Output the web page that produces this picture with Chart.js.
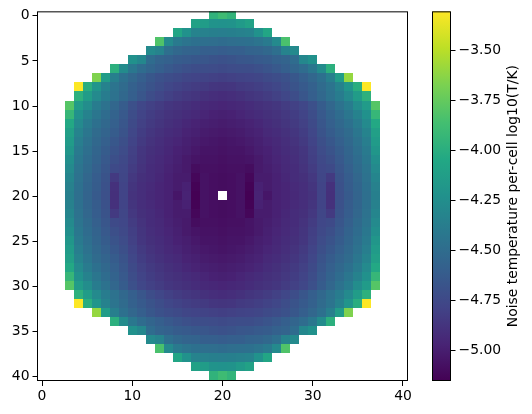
<!DOCTYPE html>
<html>
<head>
<meta charset="utf-8">
<title>Noise temperature map</title>
<script src="https://cdn.jsdelivr.net/npm/chart.js@4"></script>
<style>
    html, body { margin: 0; padding: 0; background: #fff; }
    #stage { position: relative; width: 532px; height: 414px; overflow: hidden; }
    canvas { position: absolute; left: 0; top: 0; }
</style>
</head>
<body>
<div id="stage">
    <canvas id="map-chart" width="532" height="414"></canvas>
    <canvas id="colorbar-chart" width="532" height="414"></canvas>
</div>
<script>
const xTicks = [0, 10, 20, 30, 40];
const yTicks = [0, 5, 10, 15, 20, 25, 30, 35, 40];
const colorbarTicks = [-3.5, -3.75, -4, -4.25, -4.5, -4.75, -5];
const colorbarLabel = 'Noise temperature per-cell log10(T/K)';
const colorMin = -5.151;
const colorMax = -3.306;
const gridMin = -0.5;
const gridMax = 40.5;

// first occupied column of each row, top to bottom
const firstColumn = [19, 17, 15, 13, 12, 10, 8, 6, 4, 4, 3, 3, 3, 3, 3, 3, 3, 3, 3, 3, 3,
    3, 3, 3, 3, 3, 3, 3, 3, 3, 3, 4, 4, 6, 8, 10, 12, 13, 15, 17, 19];

// log10(T/K) per cell
const noiseRows = [
    [-3.96, -3.89, -3.95],
    [-4.10, -4.14, -4.21, -4.22, -4.21, -4.16, -4.10],
    [-4.07, -4.22, -4.33, -4.35, -4.36, -4.37, -4.36, -4.35, -4.33, -4.22, -4.07],
    [-3.82, -4.28, -4.40, -4.44, -4.47, -4.48, -4.49, -4.50, -4.49, -4.48, -4.47, -4.44, -4.40, -4.28, -3.84],
    [-4.28, -4.33, -4.48, -4.53, -4.56, -4.57, -4.60, -4.60, -4.61, -4.60, -4.60, -4.57, -4.56, -4.53, -4.48, -4.33, -4.28],
    [-4.23, -4.30, -4.50, -4.56, -4.58, -4.62, -4.63, -4.65, -4.66, -4.68, -4.69, -4.68, -4.66, -4.65, -4.63, -4.62, -4.58, -4.56, -4.50, -4.30, -4.23],
    [-3.99, -4.27, -4.42, -4.50, -4.55, -4.60, -4.64, -4.67, -4.70, -4.72, -4.72, -4.73, -4.74, -4.73, -4.72, -4.72, -4.70, -4.67, -4.64, -4.60, -4.55, -4.50, -4.42, -4.27, -3.99],
    [-3.66, -4.14, -4.36, -4.47, -4.54, -4.60, -4.65, -4.69, -4.72, -4.74, -4.77, -4.78, -4.79, -4.80, -4.81, -4.80, -4.79, -4.78, -4.77, -4.74, -4.72, -4.69, -4.65, -4.60, -4.54, -4.47, -4.36, -4.14, -3.60],
    [-3.31, -4.00, -4.20, -4.34, -4.44, -4.51, -4.58, -4.63, -4.68, -4.72, -4.76, -4.79, -4.81, -4.83, -4.84, -4.86, -4.87, -4.86, -4.84, -4.83, -4.81, -4.79, -4.76, -4.72, -4.68, -4.63, -4.58, -4.51, -4.44, -4.34, -4.20, -4.00, -3.31],
    [-3.98, -4.14, -4.28, -4.38, -4.46, -4.53, -4.60, -4.66, -4.72, -4.76, -4.80, -4.83, -4.85, -4.87, -4.89, -4.91, -4.92, -4.91, -4.89, -4.87, -4.85, -4.83, -4.80, -4.76, -4.72, -4.66, -4.60, -4.53, -4.46, -4.38, -4.28, -4.14, -3.98],
    [-3.80, -4.15, -4.26, -4.38, -4.46, -4.54, -4.62, -4.70, -4.76, -4.80, -4.83, -4.86, -4.88, -4.90, -4.92, -4.94, -4.95, -4.96, -4.95, -4.94, -4.92, -4.90, -4.88, -4.86, -4.83, -4.80, -4.76, -4.70, -4.62, -4.54, -4.46, -4.38, -4.26, -4.15, -3.80],
    [-3.93, -4.23, -4.34, -4.43, -4.50, -4.57, -4.64, -4.72, -4.78, -4.82, -4.85, -4.88, -4.90, -4.92, -4.94, -4.96, -4.98, -4.99, -4.98, -4.96, -4.94, -4.92, -4.90, -4.88, -4.85, -4.82, -4.78, -4.72, -4.64, -4.57, -4.50, -4.43, -4.34, -4.23, -3.93],
    [-4.04, -4.28, -4.39, -4.47, -4.53, -4.59, -4.66, -4.74, -4.80, -4.84, -4.87, -4.90, -4.92, -4.95, -4.97, -4.99, -5.00, -5.01, -5.00, -4.99, -4.97, -4.95, -4.92, -4.90, -4.87, -4.84, -4.80, -4.74, -4.66, -4.59, -4.53, -4.47, -4.39, -4.28, -4.04],
    [-4.12, -4.33, -4.43, -4.51, -4.56, -4.62, -4.68, -4.76, -4.82, -4.86, -4.89, -4.92, -4.94, -4.97, -4.99, -5.01, -5.02, -5.03, -5.02, -5.01, -4.99, -4.97, -4.94, -4.92, -4.89, -4.86, -4.82, -4.76, -4.68, -4.62, -4.56, -4.51, -4.43, -4.33, -4.12],
    [-4.15, -4.37, -4.46, -4.53, -4.59, -4.65, -4.71, -4.78, -4.84, -4.88, -4.91, -4.94, -4.96, -4.99, -5.01, -5.03, -5.04, -5.05, -5.04, -5.03, -5.01, -4.99, -4.96, -4.94, -4.91, -4.88, -4.84, -4.78, -4.71, -4.65, -4.59, -4.53, -4.46, -4.37, -4.15],
    [-4.19, -4.40, -4.48, -4.55, -4.62, -4.68, -4.73, -4.80, -4.86, -4.90, -4.92, -4.95, -4.98, -5.00, -5.03, -5.05, -5.05, -5.06, -5.05, -5.05, -5.03, -5.00, -4.98, -4.95, -4.92, -4.90, -4.86, -4.80, -4.73, -4.68, -4.62, -4.55, -4.48, -4.40, -4.19],
    [-4.24, -4.42, -4.50, -4.57, -4.64, -4.71, -4.75, -4.81, -4.87, -4.91, -4.93, -4.96, -4.99, -5.02, -5.05, -5.06, -5.06, -5.07, -5.06, -5.06, -5.05, -5.02, -4.99, -4.96, -4.93, -4.91, -4.87, -4.81, -4.75, -4.71, -4.64, -4.57, -4.50, -4.42, -4.24],
    [-4.28, -4.44, -4.52, -4.59, -4.66, -4.74, -4.76, -4.83, -4.88, -4.92, -4.94, -4.97, -5.00, -5.02, -5.09, -5.07, -5.07, -5.08, -5.07, -5.07, -5.09, -5.02, -5.00, -4.97, -4.94, -4.92, -4.88, -4.83, -4.76, -4.74, -4.66, -4.59, -4.52, -4.44, -4.28],
    [-4.32, -4.46, -4.54, -4.61, -4.68, -4.84, -4.77, -4.85, -4.90, -4.92, -4.95, -4.98, -5.01, -5.01, -5.12, -5.06, -5.08, -5.09, -5.08, -5.06, -5.12, -5.01, -5.01, -4.98, -4.95, -4.92, -4.90, -4.85, -4.77, -4.84, -4.68, -4.61, -4.54, -4.46, -4.32],
    [-4.35, -4.47, -4.55, -4.62, -4.69, -4.89, -4.78, -4.87, -4.91, -4.93, -4.96, -4.98, -5.01, -4.98, -5.14, -5.06, -5.08, -5.09, -5.08, -5.06, -5.14, -4.98, -5.01, -4.98, -4.96, -4.93, -4.91, -4.87, -4.78, -4.89, -4.69, -4.62, -4.55, -4.47, -4.35],
    [-4.36, -4.48, -4.56, -4.63, -4.70, -4.90, -4.78, -4.88, -4.91, -4.94, -4.96, -4.98, -5.04, -4.97, -5.15, -5.06, -5.08, null, -5.08, -5.06, -5.15, -4.97, -5.04, -4.98, -4.96, -4.94, -4.91, -4.88, -4.78, -4.90, -4.70, -4.63, -4.56, -4.48, -4.36],
    [-4.35, -4.47, -4.55, -4.62, -4.69, -4.89, -4.78, -4.87, -4.91, -4.93, -4.96, -4.98, -5.01, -4.98, -5.14, -5.06, -5.08, -5.09, -5.08, -5.06, -5.14, -4.98, -5.01, -4.98, -4.96, -4.93, -4.91, -4.87, -4.78, -4.89, -4.69, -4.62, -4.55, -4.47, -4.35],
    [-4.32, -4.46, -4.54, -4.61, -4.68, -4.84, -4.77, -4.85, -4.90, -4.92, -4.95, -4.98, -5.01, -5.01, -5.12, -5.06, -5.08, -5.09, -5.08, -5.06, -5.12, -5.01, -5.01, -4.98, -4.95, -4.92, -4.90, -4.85, -4.77, -4.84, -4.68, -4.61, -4.54, -4.46, -4.32],
    [-4.28, -4.44, -4.52, -4.59, -4.66, -4.74, -4.76, -4.83, -4.88, -4.92, -4.94, -4.97, -5.00, -5.02, -5.09, -5.07, -5.07, -5.08, -5.07, -5.07, -5.05, -5.02, -5.00, -4.97, -4.94, -4.92, -4.88, -4.83, -4.76, -4.74, -4.66, -4.59, -4.52, -4.44, -4.28],
    [-4.24, -4.42, -4.50, -4.57, -4.64, -4.71, -4.75, -4.81, -4.87, -4.91, -4.93, -4.96, -4.99, -5.02, -5.05, -5.06, -5.06, -5.07, -5.06, -5.06, -5.05, -5.02, -4.99, -4.96, -4.93, -4.91, -4.87, -4.81, -4.75, -4.71, -4.64, -4.57, -4.50, -4.42, -4.24],
    [-4.19, -4.40, -4.48, -4.55, -4.62, -4.68, -4.73, -4.80, -4.86, -4.90, -4.92, -4.95, -4.98, -5.00, -5.03, -5.05, -5.05, -5.06, -5.05, -5.05, -5.03, -5.00, -4.98, -4.95, -4.92, -4.90, -4.86, -4.80, -4.73, -4.68, -4.62, -4.55, -4.48, -4.40, -4.19],
    [-4.15, -4.37, -4.46, -4.53, -4.59, -4.65, -4.71, -4.78, -4.84, -4.88, -4.91, -4.94, -4.96, -4.99, -5.01, -5.03, -5.04, -5.05, -5.04, -5.03, -5.01, -4.99, -4.96, -4.94, -4.91, -4.88, -4.84, -4.78, -4.71, -4.65, -4.59, -4.53, -4.46, -4.37, -4.15],
    [-4.12, -4.33, -4.43, -4.51, -4.56, -4.62, -4.68, -4.76, -4.82, -4.86, -4.89, -4.92, -4.94, -4.97, -4.99, -5.01, -5.02, -5.03, -5.02, -5.01, -4.99, -4.97, -4.94, -4.92, -4.89, -4.86, -4.82, -4.76, -4.68, -4.62, -4.56, -4.51, -4.43, -4.33, -4.12],
    [-4.04, -4.28, -4.39, -4.47, -4.53, -4.59, -4.66, -4.74, -4.80, -4.84, -4.87, -4.90, -4.92, -4.95, -4.97, -4.99, -5.00, -5.01, -5.00, -4.99, -4.97, -4.95, -4.92, -4.90, -4.87, -4.84, -4.80, -4.74, -4.66, -4.59, -4.53, -4.47, -4.39, -4.28, -4.04],
    [-3.93, -4.23, -4.34, -4.43, -4.50, -4.57, -4.64, -4.72, -4.78, -4.82, -4.85, -4.88, -4.90, -4.92, -4.94, -4.96, -4.98, -4.99, -4.98, -4.96, -4.94, -4.92, -4.90, -4.88, -4.85, -4.82, -4.78, -4.72, -4.64, -4.57, -4.50, -4.43, -4.34, -4.23, -3.93],
    [-3.80, -4.15, -4.26, -4.38, -4.46, -4.54, -4.62, -4.70, -4.76, -4.80, -4.83, -4.86, -4.88, -4.90, -4.92, -4.94, -4.95, -4.96, -4.95, -4.94, -4.92, -4.90, -4.88, -4.86, -4.83, -4.80, -4.76, -4.70, -4.62, -4.54, -4.46, -4.38, -4.26, -4.15, -3.80],
    [-3.98, -4.14, -4.28, -4.38, -4.46, -4.53, -4.60, -4.66, -4.72, -4.76, -4.80, -4.83, -4.85, -4.87, -4.89, -4.91, -4.92, -4.91, -4.89, -4.87, -4.85, -4.83, -4.80, -4.76, -4.72, -4.66, -4.60, -4.53, -4.46, -4.38, -4.28, -4.14, -3.98],
    [-3.31, -4.00, -4.20, -4.34, -4.44, -4.51, -4.58, -4.63, -4.68, -4.72, -4.76, -4.79, -4.81, -4.83, -4.84, -4.86, -4.87, -4.86, -4.84, -4.83, -4.81, -4.79, -4.76, -4.72, -4.68, -4.63, -4.58, -4.51, -4.44, -4.34, -4.20, -4.00, -3.31],
    [-3.60, -4.14, -4.36, -4.47, -4.54, -4.60, -4.65, -4.69, -4.72, -4.74, -4.77, -4.78, -4.79, -4.80, -4.81, -4.80, -4.79, -4.78, -4.77, -4.74, -4.72, -4.69, -4.65, -4.60, -4.54, -4.47, -4.36, -4.14, -3.66],
    [-3.99, -4.27, -4.42, -4.50, -4.55, -4.60, -4.64, -4.67, -4.70, -4.72, -4.72, -4.73, -4.74, -4.73, -4.72, -4.72, -4.70, -4.67, -4.64, -4.60, -4.55, -4.50, -4.42, -4.27, -3.99],
    [-4.23, -4.30, -4.50, -4.56, -4.58, -4.62, -4.63, -4.65, -4.66, -4.68, -4.69, -4.68, -4.66, -4.65, -4.63, -4.62, -4.58, -4.56, -4.50, -4.30, -4.23],
    [-4.28, -4.33, -4.48, -4.53, -4.56, -4.57, -4.60, -4.60, -4.61, -4.60, -4.60, -4.57, -4.56, -4.53, -4.48, -4.33, -4.28],
    [-3.84, -4.28, -4.40, -4.44, -4.47, -4.48, -4.49, -4.50, -4.49, -4.48, -4.47, -4.44, -4.40, -4.28, -3.82],
    [-4.07, -4.22, -4.33, -4.35, -4.36, -4.37, -4.36, -4.35, -4.33, -4.22, -4.07],
    [-4.10, -4.14, -4.21, -4.22, -4.21, -4.16, -4.10],
    [-3.96, -3.89, -3.95]
];

const viridisStops = ['#440154', '#482475', '#414487', '#355f8d', '#2a788e', '#21918c', '#22a884', '#44bf70', '#7ad151', '#bddf26', '#fde725'];

const tickFont = { family: '"DejaVu Sans"', size: 13.9 };

function hexToRgb(hex) {
    return [1, 3, 5].map(i => parseInt(hex.slice(i, i + 2), 16));
}

function viridis(value) {
    const t = Math.min(1, Math.max(0, (value - colorMin) / (colorMax - colorMin)));
    const pos = t * (viridisStops.length - 1);
    const low = Math.min(Math.floor(pos), viridisStops.length - 2);
    const a = hexToRgb(viridisStops[low]);
    const b = hexToRgb(viridisStops[low + 1]);
    const mix = a.map((c, i) => Math.round(c + (b[i] - c) * (pos - low)));
    return `rgb(${mix[0]}, ${mix[1]}, ${mix[2]})`;
}

function minusSign(text) {
    return String(text).replace('-', '\u2212');
}

const framePlugin = {
    id: 'frame',
    afterDraw(chart) {
        const { ctx, chartArea: area } = chart;
        ctx.save();
        ctx.strokeStyle = '#000';
        ctx.lineWidth = 1;
        ctx.strokeRect(area.left, area.top + 0.5, area.right - area.left, area.bottom - area.top - 1);
        ctx.restore();
    }
};

// cells snap to whole pixels from the scales so no seams show between them;
// the image in the reference sits one pixel above the y ticks
const cellPlugin = {
    id: 'cells',
    beforeDatasetsDraw(chart) {
        const { ctx, scales, chartArea } = chart;
        ctx.save();
        chart.data.datasets[0].data.forEach(cell => {
            const left = Math.round(scales.x.getPixelForValue(cell.x - 0.5));
            const right = Math.round(scales.x.getPixelForValue(cell.x + 0.5));
            const top = Math.max(chartArea.top, Math.round(scales.y.getPixelForValue(cell.y - 0.5)) - 1);
            const bottom = Math.round(scales.y.getPixelForValue(cell.y + 0.5)) - 1;
            ctx.fillStyle = viridis(cell.v);
            ctx.fillRect(left, top, right - left, bottom - top);
        });
        ctx.restore();
    }
};

const colorbarTitlePlugin = {
    id: 'colorbarTitle',
    afterDraw(chart) {
        const { ctx, chartArea: area } = chart;
        ctx.save();
        ctx.translate(513.5, (area.top + area.bottom) / 2);
        ctx.rotate(-Math.PI / 2);
        ctx.font = '13.9px "DejaVu Sans"';
        ctx.fillStyle = '#000';
        ctx.textAlign = 'center';
        ctx.textBaseline = 'middle';
        ctx.fillText(colorbarLabel, 0, 0);
        ctx.restore();
    }
};

function axisGrid() {
    return { drawOnChartArea: false, drawTicks: true, tickLength: 5, tickColor: '#000', lineWidth: 1 };
}

function buildCells() {
    const cells = [];
    noiseRows.forEach((row, rowIndex) => {
        row.forEach((value, i) => {
            if (value !== null) {
                cells.push({ x: firstColumn[rowIndex] + i, y: rowIndex, v: value });
            }
        });
    });
    return cells;
}

new Chart(document.getElementById('map-chart'), {
    type: 'scatter',
    data: {
        datasets: [{
            data: buildCells(),
            pointRadius: 0
        }]
    },
    options: {
        responsive: false,
        animation: false,
        events: [],
        layout: { padding: { left: 0, top: 11, right: 124.5, bottom: 0 } },
        plugins: { legend: { display: false }, tooltip: { enabled: false } },
        scales: {
            x: {
                type: 'linear',
                min: gridMin,
                max: gridMax,
                afterBuildTicks: scale => { scale.ticks = xTicks.map(value => ({ value })); },
                afterFit: scale => { scale.height = 33; },
                grid: axisGrid(),
                border: { display: false },
                ticks: { autoSkip: false, maxRotation: 0, color: '#000', font: tickFont, padding: 2, callback: value => String(value) }
            },
            y: {
                type: 'linear',
                reverse: true,
                min: gridMin,
                max: gridMax,
                afterBuildTicks: scale => { scale.ticks = yTicks.map(value => ({ value })); },
                afterFit: scale => { scale.width = 37.5; },
                grid: axisGrid(),
                border: { display: false },
                ticks: { autoSkip: false, color: '#000', font: tickFont, padding: 3, callback: value => String(value) }
            }
        }
    },
    plugins: [cellPlugin, framePlugin]
});

new Chart(document.getElementById('colorbar-chart'), {
    type: 'bar',
    data: {
        labels: [colorbarLabel],
        datasets: [{
            data: [[colorMin, colorMax]],
            barPercentage: 1,
            categoryPercentage: 1,
            backgroundColor: context => {
                const area = context.chart.chartArea;
                if (!area) {
                    return viridisStops[0];
                }
                const gradient = context.chart.ctx.createLinearGradient(0, area.bottom, 0, area.top);
                viridisStops.forEach((color, i) => gradient.addColorStop(i / (viridisStops.length - 1), color));
                return gradient;
            }
        }]
    },
    options: {
        responsive: false,
        animation: false,
        events: [],
        layout: { padding: { left: 432.5, top: 11, right: 0, bottom: 33 } },
        plugins: { legend: { display: false }, tooltip: { enabled: false } },
        scales: {
            x: { display: false },
            y: {
                position: 'right',
                min: colorMin,
                max: colorMax,
                afterBuildTicks: scale => { scale.ticks = colorbarTicks.map(value => ({ value })); },
                afterFit: scale => { scale.width = 81.5; },
                grid: axisGrid(),
                border: { display: false },
                ticks: { autoSkip: false, color: '#000', font: tickFont, padding: 3, callback: value => minusSign(value.toFixed(2)) }
            }
        }
    },
    plugins: [framePlugin, colorbarTitlePlugin]
});
</script>
</body>
</html>
